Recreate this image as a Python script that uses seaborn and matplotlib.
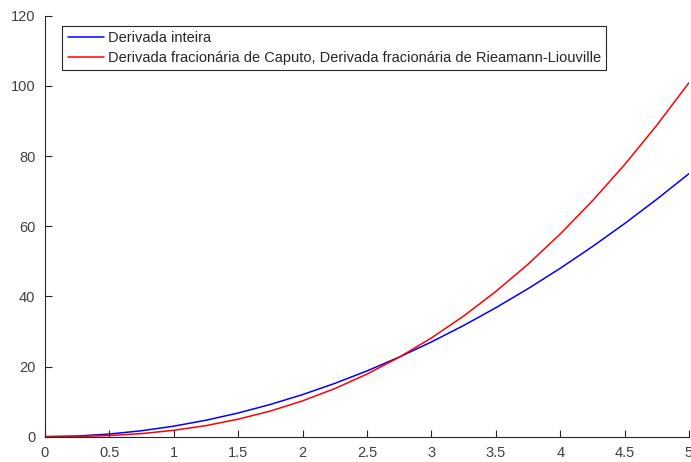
import matplotlib
matplotlib.use("Agg")
import matplotlib.pyplot as plt
import seaborn as sns
import pandas as pd

x_vals = [0, 0.25, 0.5, 0.75, 1, 1.25, 1.5, 1.75, 2, 2.25, 2.5, 2.75, 3, 3.25, 3.5,
          3.75, 4, 4.25, 4.5, 4.75, 5]
integer_deriv = [0, 0.19, 0.75, 1.69, 3.0, 4.69, 6.75, 9.19, 12.0, 15.19, 18.75, 22.69,
                 27.0, 31.69, 36.75, 42.19, 48.0, 54.19, 60.75, 67.69, 75.0]
fractional_deriv = [0, 0.06, 0.32, 0.88, 1.81, 3.15, 4.98, 7.31, 10.21, 13.71, 17.84, 22.64,
                    28.14, 34.38, 41.38, 49.16, 57.77, 67.23, 77.55, 88.78, 100.92]
labels = ["Derivada inteira",
          "Derivada fracionária de Caputo, Derivada fracionária de Rieamann-Liouville"]
x_ticks = [0, 0.5, 1, 1.5, 2, 2.5, 3, 3.5, 4, 4.5, 5]
x_tick_labels = ["0", "0.5", "1", "1.5", "2", "2.5", "3", "3.5", "4", "4.5", "5"]
y_ticks = [0, 20, 40, 60, 80, 100, 120]

sns.set_style("ticks")
plt.rcParams['font.family'] = ['Liberation Sans', 'DejaVu Sans']

df = pd.DataFrame({
    "x": x_vals * 2,
    "y": integer_deriv + fractional_deriv,
    "serie": [labels[0]] * len(x_vals) + [labels[1]] * len(x_vals),
})

fig = plt.figure(figsize=(6.91, 4.62), dpi=100)
ax = fig.add_axes([0.0651, 0.0548, 0.932, 0.911])
sns.lineplot(data=df, x="x", y="y", hue="serie", palette=["#0000ff", "#ff0000"],
             linewidth=1.1, ax=ax, legend=True)

ax.set_xlim(0, 5)
ax.set_ylim(0, 120)
ax.set_xticks(x_ticks)
ax.set_xticklabels(x_tick_labels)
ax.set_yticks(y_ticks)
ax.set_xlabel("")
ax.set_ylabel("")
for s in ["top", "right"]:
    ax.spines[s].set_visible(False)
for s in ["left", "bottom"]:
    ax.spines[s].set_color("#262626")
    ax.spines[s].set_linewidth(0.8)
ax.tick_params(direction="in", length=5, width=0.8, colors="#262626",
               labelcolor="#404040", labelsize=10.5, pad=7)

leg = ax.legend(loc="upper left", bbox_to_anchor=(17 / 644, 1 - 10 / 421), fontsize=10.5,
                frameon=True, fancybox=False, handlelength=2.5, handletextpad=0.25,
                borderpad=0.38, labelspacing=0.38, borderaxespad=0)
leg.get_frame().set_edgecolor("#262626")
leg.get_frame().set_linewidth(0.8)
leg.get_frame().set_alpha(1)

fig.savefig("out.png", dpi=100)
